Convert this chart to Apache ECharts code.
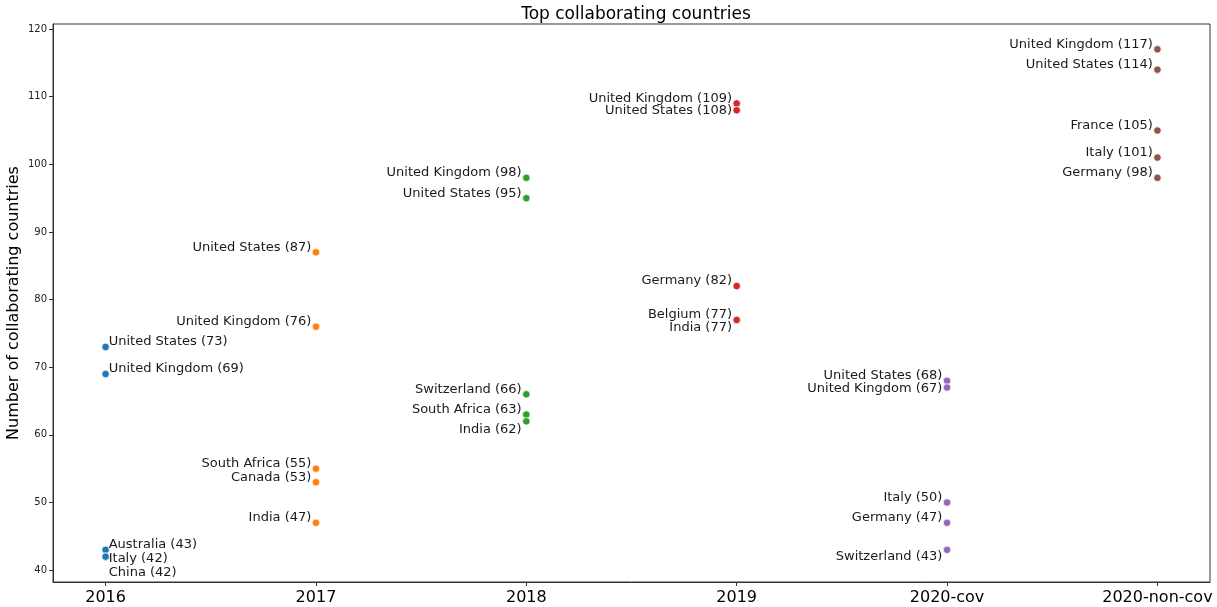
<!DOCTYPE html>
<html>
<head>
<meta charset="utf-8">
<script src="https://cdn.jsdelivr.net/npm/echarts@6/dist/echarts.min.js"></script>
<style>
  html, body { margin: 0; padding: 0; background: #fff; }
  #chart { width: 1217px; height: 607px; }
</style>
</head>
<body>
<div id="chart"></div>
<script>
const years = ['2016', '2017', '2018', '2019', '2020-cov', '2020-non-cov']
const yTicks = [40, 50, 60, 70, 80, 90, 100, 110, 120]

const countries2016 = ['United States', 'United Kingdom', 'Australia', 'Italy', 'China']
const counts2016 = [73, 69, 43, 42, 42]
const countries2017 = ['United States', 'United Kingdom', 'South Africa', 'Canada', 'India']
const counts2017 = [87, 76, 55, 53, 47]
const countries2018 = ['United Kingdom', 'United States', 'Switzerland', 'South Africa', 'India']
const counts2018 = [98, 95, 66, 63, 62]
const countries2019 = ['United Kingdom', 'United States', 'Germany', 'Belgium', 'India']
const counts2019 = [109, 108, 82, 77, 77]
const countries2020cov = ['United States', 'United Kingdom', 'Italy', 'Germany', 'Switzerland']
const counts2020cov = [68, 67, 50, 47, 43]
const countries2020noncov = ['United Kingdom', 'United States', 'France', 'Italy', 'Germany']
const counts2020noncov = [117, 114, 105, 101, 98]

const groups = [
  [countries2016, counts2016],
  [countries2017, counts2017],
  [countries2018, counts2018],
  [countries2019, counts2019],
  [countries2020cov, counts2020cov],
  [countries2020noncov, counts2020noncov],
]

const colors = ['#1f77b4', '#ff7f0e', '#2ca02c', '#d62728', '#9467bd', '#8c564b']

// vertical nudges (px) for labels that were pushed apart to avoid overlap
const labelNudge = {
  '0|Italy': 7, '0|China': 20.5,
  '2|India': 13,
  '3|United States': 5, '3|India': 12.5,
  '4|United Kingdom': 6, '4|Switzerland': 12,
}

const chart = echarts.init(document.getElementById('chart'))

const series = groups.map(([names, vals], gi) => ({
  type: 'scatter',
  symbolSize: 7.5,
  itemStyle: { color: colors[gi], borderColor: '#fff', borderWidth: 0.75, opacity: 1 },
  label: {
    show: true,
    position: gi === 0 ? 'right' : 'left',
    distance: gi === 0 ? -1 : 0.5,
    fontFamily: 'DejaVu Sans',
    fontSize: 13,
    color: '#1a1a1a',
    formatter: p => `${p.name} (${p.value[1]})`,
  },
  data: names.map((n, i) => ({
    name: n,
    value: [gi, vals[i]],
    label: { offset: [0, -5 + (labelNudge[gi + '|' + n] || 0)] },
  })),
}))

const axisText = { fontFamily: 'DejaVu Sans', color: '#000' }

chart.setOption({
  animation: false,
  title: {
    text: 'Top collaborating countries',
    left: 631,
    top: 1,
    textAlign: 'center',
    textStyle: { ...axisText, fontSize: 17, fontWeight: 'normal' },
  },
  grid: {
    left: 53, right: 7, top: 24, bottom: 25,
    outerBoundsMode: 'none',
    containLabel: false,
    show: true, borderColor: '#333', borderWidth: 1, backgroundColor: 'transparent',
  },
  xAxis: {
    type: 'value',
    min: -0.25,
    max: 5.25,
    splitLine: { show: false },
    axisLine: { show: true, onZero: false, lineStyle: { color: '#333' } },
    axisTick: { show: true, length: 4, lineStyle: { color: '#333' }, customValues: [0, 1, 2, 3, 4, 5] },
    axisLabel: {
      ...axisText,
      customValues: [0, 1, 2, 3, 4, 5],
      formatter: v => years[v],
      fontSize: 16,
      margin: 8,
    },
  },
  yAxis: {
    type: 'value',
    min: 38.25,
    max: 120.75,
    name: 'Number of collaborating countries',
    nameLocation: 'middle',
    nameGap: 31,
    nameMoveOverlap: false,
    nameTextStyle: { ...axisText, fontSize: 16 },
    splitLine: { show: false },
    axisLine: { show: true, onZero: false, lineStyle: { color: '#333' } },
    axisTick: { show: true, length: 4, lineStyle: { color: '#333' }, customValues: yTicks },
    axisLabel: {
      ...axisText,
      customValues: yTicks,
      fontSize: 10,
      color: '#222',
      margin: 6,
    },
  },
  series,
})
</script>
</body>
</html>
